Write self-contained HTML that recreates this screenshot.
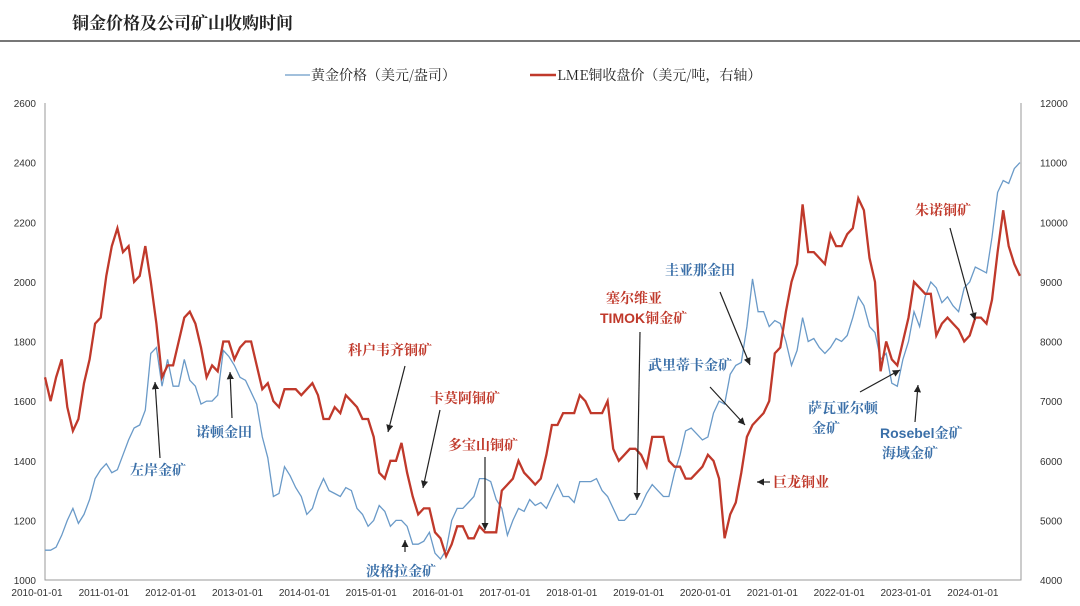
<!DOCTYPE html>
<html><head><meta charset="utf-8"><style>
body{margin:0;background:#fff;width:1080px;height:606px;overflow:hidden}
svg{display:block}
</style></head><body>
<svg id="chart" width="1080" height="606" xmlns="http://www.w3.org/2000/svg" font-family="Liberation Sans, Noto Sans CJK SC, sans-serif">
<text x="72" y="29" font-size="17" font-weight="bold" fill="#222" font-family="Noto Serif CJK SC, serif">铜金价格及公司矿山收购时间</text>
<line x1="0" y1="41" x2="1080" y2="41" stroke="#777" stroke-width="2"/>
<g font-size="14" fill="#222" font-family="Noto Serif CJK SC, serif">
<line x1="285" y1="75" x2="310" y2="75" stroke="#6a9ac8" stroke-width="1.2"/>
<text x="311" y="80">黄金价格（美元/盎司）</text>
<line x1="530" y1="75" x2="556" y2="75" stroke="#c0392b" stroke-width="2.5"/>
<text x="557" y="80">LME铜收盘价（美元/吨，右轴）</text>
</g>
<g id="axes"></g>
<g id="series"></g>
<g id="notes"></g>
</svg>
<script>
const leftTicks=[1000,1200,1400,1600,1800,2000,2200,2400,2600];
const rightTicks=[4000,5000,6000,7000,8000,9000,10000,11000,12000];
const xTickYears=[2010,2011,2012,2013,2014,2015,2016,2017,2018,2019,2020,2021,2022,2023,2024];
const gold=[1100,1100,1110,1150,1200,1240,1190,1220,1270,1340,1370,1390,
1360,1370,1420,1470,1510,1520,1570,1760,1780,1650,1740,1650,
1650,1740,1670,1650,1590,1600,1600,1620,1770,1750,1720,1680,
1670,1630,1590,1480,1410,1280,1290,1380,1350,1310,1280,1220,
1240,1300,1340,1300,1290,1280,1310,1300,1240,1220,1180,1200,
1250,1230,1180,1200,1200,1180,1120,1120,1130,1160,1090,1070,
1100,1200,1240,1240,1260,1280,1340,1340,1330,1270,1240,1150,
1200,1240,1230,1270,1250,1260,1240,1280,1320,1280,1280,1260,
1330,1330,1330,1340,1300,1280,1240,1200,1200,1220,1220,1250,
1290,1320,1300,1280,1280,1360,1420,1500,1510,1490,1470,1480,
1560,1600,1590,1690,1720,1730,1850,2010,1900,1900,1850,1870,
1860,1800,1720,1770,1880,1800,1810,1780,1760,1780,1810,1800,
1820,1880,1950,1920,1850,1830,1740,1760,1660,1650,1740,1800,
1900,1850,1950,2000,1980,1930,1950,1920,1900,1980,2000,2050,
2040,2030,2150,2300,2340,2330,2380,2400];
const copper=[7400,7000,7400,7700,6900,6500,6700,7300,7700,8300,8400,9100,
9600,9900,9500,9600,9000,9100,9600,9000,8300,7400,7600,7600,
8000,8400,8500,8300,7900,7400,7600,7500,8000,8000,7700,7900,
8000,8000,7600,7200,7300,7000,6900,7200,7200,7200,7100,7200,
7300,7100,6700,6700,6900,6800,7100,7000,6900,6700,6700,6400,
5800,5700,6000,6000,6300,5800,5400,5100,5200,5200,4800,4700,
4400,4600,4900,4900,4700,4700,4900,4800,4800,4800,5500,5600,
5700,6000,5800,5700,5600,5700,6100,6600,6600,6800,6800,6800,
7100,7000,6800,6800,6800,7000,6200,6000,6100,6200,6200,6100,
5900,6400,6400,6400,6000,5900,5900,5700,5700,5800,5900,6100,
6000,5700,4700,5100,5300,5800,6400,6600,6700,6800,7000,7800,
7900,8500,9000,9300,10300,9500,9500,9400,9300,9800,9600,9600,
9800,9900,10400,10200,9400,9000,7500,8000,7700,7600,8000,8400,
9000,8900,8800,8800,8100,8300,8400,8300,8200,8000,8100,8400,
8400,8300,8700,9500,10200,9600,9300,9100];
const notes=[
{t:"左岸金矿",x:130,y:475,c:"b"},{t:"诺顿金田",x:196,y:437,c:"b"},{t:"波格拉金矿",x:366,y:576,c:"b"},
{t:"圭亚那金田",x:665,y:275,c:"b"},{t:"武里蒂卡金矿",x:648,y:370,c:"b"},{t:"萨瓦亚尔顿",x:808,y:413,c:"b"},
{t:"金矿",x:812,y:433,c:"b"},{t:"Rosebel金矿",x:880,y:438,c:"b"},{t:"海域金矿",x:882,y:458,c:"b"},
{t:"科户韦齐铜矿",x:348,y:355,c:"r"},{t:"卡莫阿铜矿",x:430,y:403,c:"r"},{t:"多宝山铜矿",x:448,y:450,c:"r"},
{t:"塞尔维亚",x:606,y:303,c:"r"},{t:"TIMOK铜金矿",x:600,y:323,c:"r"},{t:"巨龙铜业",x:773,y:487,c:"r"},{t:"朱诺铜矿",x:915,y:215,c:"r"}];
const arrows=[[160,458,155,382],[232,418,230,372],[405,366,388,432],[440,410,423,488],[485,457,485,530],
[405,552,405,540],[640,332,637,500],[770,482,757,482],[720,292,750,365],[710,387,745,425],[860,392,900,370],[915,422,918,385],[950,228,975,320]];
const NS="http://www.w3.org/2000/svg";
const X0=45,X1=1021,YT=103,YB=580;
const xAt=m=>X0+(m/12)*((X1-X0)/14.6);
const yL=v=>YB-(v-1000)/1600*(YB-YT);
const yR=v=>YB-(v-4000)/8000*(YB-YT);
function mk(tag,attrs,parent){const e=document.createElementNS(NS,tag);for(const k in attrs)e.setAttribute(k,attrs[k]);parent.appendChild(e);return e;}
const ax=document.getElementById('axes'),se=document.getElementById('series'),no=document.getElementById('notes');
let e=mk('path',{d:`M${X0},${YT}V${YB}H${X1}V${YT}`,fill:'none',stroke:'#999','stroke-width':1},ax);


leftTicks.forEach(v=>{const t=mk('text',{x:36,y:yL(v)+4,'font-size':10,'text-anchor':'end',fill:'#333'},ax);t.textContent=v;

});
rightTicks.forEach(v=>{const t=mk('text',{x:1040,y:yR(v)+4,'font-size':10,fill:'#333'},ax);t.textContent=v;

});
xTickYears.forEach(yr=>{const t=mk('text',{x:xAt((yr-2010)*12)-8,y:596,'font-size':10,'text-anchor':'middle',fill:'#333'},ax);t.textContent=yr+'-01-01';

});
let p=mk('path',{d:gold.map((v,i)=>(i?'L':'M')+xAt(i).toFixed(1)+','+yL(v).toFixed(1)).join(''),fill:'none',stroke:'#6a9ac8','stroke-width':1.3},se);


p=mk('path',{d:copper.map((v,i)=>(i?'L':'M')+xAt(i).toFixed(1)+','+yR(v).toFixed(1)).join(''),fill:'none',stroke:'#c0392b','stroke-width':2.3},se);


const defs=mk('defs',{},document.getElementById('chart'));
const mrk=mk('marker',{id:'ah',markerWidth:8,markerHeight:8,refX:6,refY:3,orient:'auto'},defs);
mk('path',{d:'M0,0L6,3L0,6Z',fill:'#222'},mrk);
arrows.forEach(a=>{const l=mk('line',{x1:a[0],y1:a[1],x2:a[2],y2:a[3],stroke:'#222','stroke-width':1.2,'marker-end':'url(#ah)'},no);

});
notes.forEach(n=>{const t=mk('text',{x:n.x,y:n.y,'font-size':14,'font-weight':'bold',fill:n.c==='r'?'#c0392b':'#3a6fa8','font-family':'Liberation Sans, Noto Serif CJK SC, serif'},no);t.textContent=n.t;

});
</script>
</body></html>
